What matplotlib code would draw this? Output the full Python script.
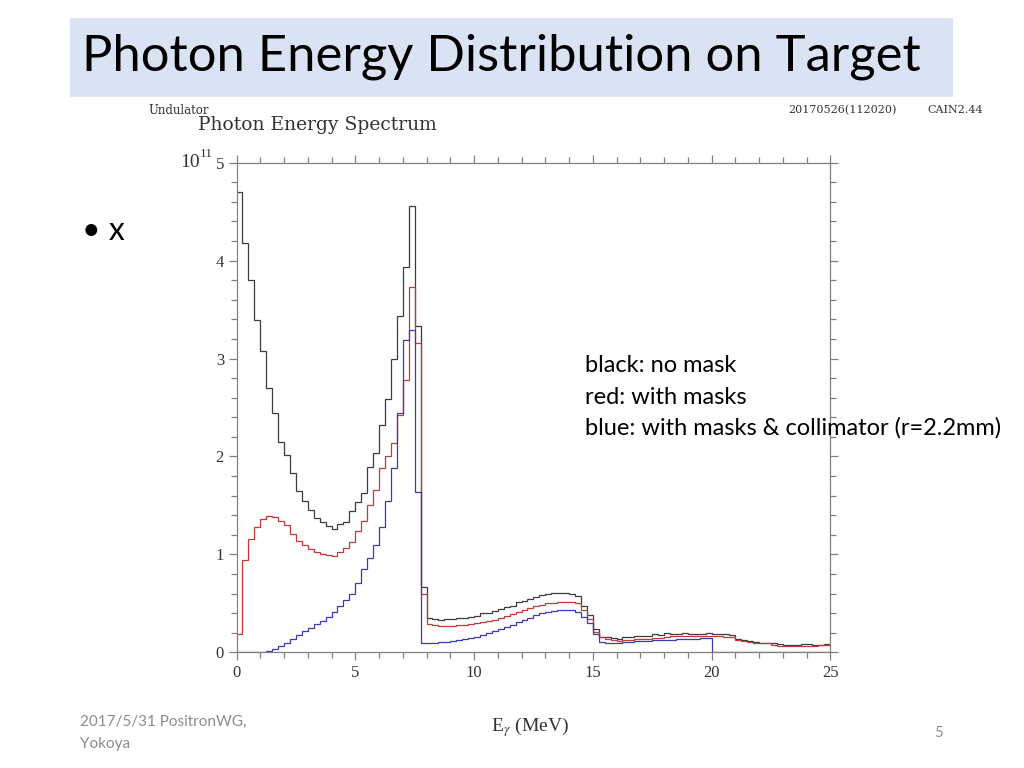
import numpy as np
import matplotlib
matplotlib.use("Agg")
from matplotlib import pyplot as plt
from matplotlib.patches import Rectangle
from matplotlib.ticker import MultipleLocator

# histogram binning (MeV)
bin_edges = np.arange(0, 25.001, 0.25)

# counts in units of 1e11, one value per 0.25 MeV bin
no_mask = [
    4.70, 4.18, 3.80, 3.39, 3.08, 2.70, 2.44, 2.15, 2.01, 1.83,
    1.65, 1.55, 1.45, 1.37, 1.33, 1.29, 1.26, 1.31, 1.33, 1.44,
    1.53, 1.63, 1.89, 2.04, 2.32, 2.59, 3.00, 3.43, 3.93, 4.56,
    3.33, 0.67, 0.35, 0.34, 0.33, 0.34, 0.34, 0.35, 0.35, 0.36,
    0.37, 0.40, 0.40, 0.42, 0.44, 0.46, 0.47, 0.51, 0.52, 0.54,
    0.56, 0.59, 0.60, 0.61, 0.61, 0.61, 0.60, 0.57, 0.47, 0.38,
    0.24, 0.16, 0.16, 0.15, 0.14, 0.16, 0.16, 0.165, 0.17, 0.17,
    0.19, 0.18, 0.20, 0.19, 0.19, 0.20, 0.19, 0.19, 0.19, 0.20,
    0.19, 0.19, 0.19, 0.18, 0.14, 0.13, 0.12, 0.11, 0.10, 0.10,
    0.09, 0.08, 0.07, 0.07, 0.07, 0.08, 0.08, 0.07, 0.07, 0.08]

with_masks = [
    0.19, 0.94, 1.16, 1.28, 1.36, 1.39, 1.38, 1.34, 1.30, 1.21,
    1.14, 1.10, 1.05, 1.02, 1.00, 0.99, 0.98, 1.02, 1.07, 1.13,
    1.24, 1.34, 1.50, 1.66, 1.88, 2.00, 2.14, 2.42, 2.78, 3.73,
    3.16, 0.60, 0.29, 0.28, 0.27, 0.27, 0.27, 0.28, 0.28, 0.29,
    0.30, 0.31, 0.32, 0.33, 0.35, 0.37, 0.39, 0.41, 0.43, 0.45,
    0.47, 0.48, 0.50, 0.50, 0.51, 0.51, 0.51, 0.50, 0.43, 0.34,
    0.21, 0.16, 0.14, 0.13, 0.12, 0.13, 0.13, 0.14, 0.14, 0.14,
    0.15, 0.15, 0.16, 0.17, 0.17, 0.17, 0.17, 0.17, 0.17, 0.17,
    0.17, 0.17, 0.16, 0.16, 0.13, 0.12, 0.11, 0.10, 0.10, 0.09,
    0.07, 0.065, 0.065, 0.065, 0.065, 0.065, 0.065, 0.065, 0.07, 0.07]

with_collimator = [
    0.0, 0.0, 0.0, 0.0, 0.0, 0.01, 0.03, 0.06, 0.10, 0.14,
    0.18, 0.22, 0.25, 0.29, 0.32, 0.36, 0.41, 0.47, 0.53, 0.60,
    0.71, 0.85, 0.96, 1.10, 1.28, 1.55, 1.88, 2.44, 3.19, 3.29,
    1.64, 0.09, 0.10, 0.10, 0.11, 0.11, 0.12, 0.13, 0.14, 0.15,
    0.16, 0.18, 0.20, 0.22, 0.24, 0.26, 0.28, 0.31, 0.33, 0.35,
    0.38, 0.40, 0.41, 0.42, 0.43, 0.43, 0.43, 0.41, 0.36, 0.30,
    0.19, 0.11, 0.10, 0.10, 0.10, 0.11, 0.11, 0.12, 0.12, 0.12,
    0.13, 0.13, 0.13, 0.13, 0.14, 0.14, 0.14, 0.14, 0.15, 0.15,
    0.0, 0.0, 0.0, 0.0, 0.0, 0.0, 0.0, 0.0, 0.0, 0.0,
    0.0, 0.0, 0.0, 0.0, 0.0, 0.0, 0.0, 0.0, 0.0, 0.0]

x_ticks = [0, 5, 10, 15, 20, 25]
y_ticks = [0, 1, 2, 3, 4, 5]
legend_lines = ["black: no mask", "red: with masks",
                "blue: with masks & collimator (r=2.2mm)"]

slide_font = ["Lato", "DejaVu Sans"]
plot_font = ["Liberation Serif", "DejaVu Serif"]
head_font = ["DejaVu Serif"]
plt.rcParams["mathtext.fontset"] = "stix"

fig = plt.figure(figsize=(10.24, 7.68), dpi=100)
fig.patch.set_facecolor("white")

# slide title box
fig.patches.append(Rectangle((70 / 1024, 1 - 97 / 768), 883 / 1024, 79 / 768,
                             transform=fig.transFigure, facecolor="#dae3f3",
                             edgecolor="none", zorder=0))
fig.text(82 / 1024, 1 - 57 / 768, "Photon Energy Distribution on Target",
         family=slide_font, fontsize=36.5, color="black", va="center", ha="left")

# bullet
fig.text(82 / 1024, 1 - 231 / 768, "\u2022 x", family=slide_font,
         fontsize=23, color="black", va="center", ha="left")

# CAIN header texts
fig.text(148 / 1024, 1 - 111 / 768, "Undulator", family=head_font,
         fontsize=8.5, color="#333333", va="center")
fig.text(198 / 1024, 1 - 125 / 768, "Photon Energy Spectrum", family=head_font,
         fontsize=13.5, color="#333333", va="center")
fig.text(788 / 1024, 1 - 110 / 768, "20170526(112020)", family=head_font,
         fontsize=8, color="#333333", va="center")
fig.text(927 / 1024, 1 - 110 / 768, "CAIN2.44", family=head_font,
         fontsize=8, color="#333333", va="center")

ax = fig.add_axes([236.5 / 1024, 1 - 652.3 / 768, 593.8 / 1024, 489.6 / 768])
ax.stairs(no_mask, bin_edges, baseline=None, color="#3c3c3c", lw=0.9)
ax.stairs(with_masks, bin_edges, baseline=None, color="#c03a3a", lw=0.9)
ax.stairs(with_collimator, bin_edges, baseline=None, color="#3a3ab4", lw=0.9)

ax.set_xlim(0, 25)
ax.set_ylim(0, 5)
ax.set_xticks(x_ticks)
ax.set_yticks(y_ticks)
ax.xaxis.set_minor_locator(MultipleLocator(1))
ax.yaxis.set_minor_locator(MultipleLocator(0.2))
ax.tick_params(which="both", direction="out", top=True, right=True,
               color="#808080", width=0.9)
ax.tick_params(which="major", length=6)
ax.tick_params(which="minor", length=4)
ax.tick_params(labelsize=12, labelcolor="#333333", pad=3)
for lbl in ax.get_xticklabels() + ax.get_yticklabels():
    lbl.set_family(plot_font)
for sp in ax.spines.values():
    sp.set_color("#808080")
    sp.set_linewidth(0.9)

# 10^11 multiplier next to the top y label
ax.text(-0.0615, 1.0, "10", transform=ax.transAxes, family=plot_font,
        fontsize=14, color="#333333", ha="right", va="center")
ax.text(-0.061, 1.017, "11", transform=ax.transAxes, family=plot_font,
        fontsize=9.5, color="#333333", ha="left", va="center")

fig.text(530 / 1024, 1 - 727 / 768, r"E$_\gamma$ (MeV)", family=plot_font,
         fontsize=14, color="#333333", ha="center", va="center")

# notes
for i, line in enumerate(legend_lines):
    fig.text(585 / 1024, 1 - (366 + 31 * i) / 768, line, family=slide_font,
             fontsize=17, color="black", va="center", ha="left")

# footer
fig.text(80 / 1024, 1 - 722 / 768, "2017/5/31 PositronWG,", family=slide_font,
         fontsize=11, color="#8c8c8c", va="center")
fig.text(80 / 1024, 1 - 744 / 768, "Yokoya", family=slide_font,
         fontsize=11, color="#8c8c8c", va="center")
fig.text(938 / 1024, 1 - 733 / 768, "5", family=slide_font,
         fontsize=10.5, color="#8c8c8c", va="center", ha="center")

fig.savefig("out.png", dpi=100)
